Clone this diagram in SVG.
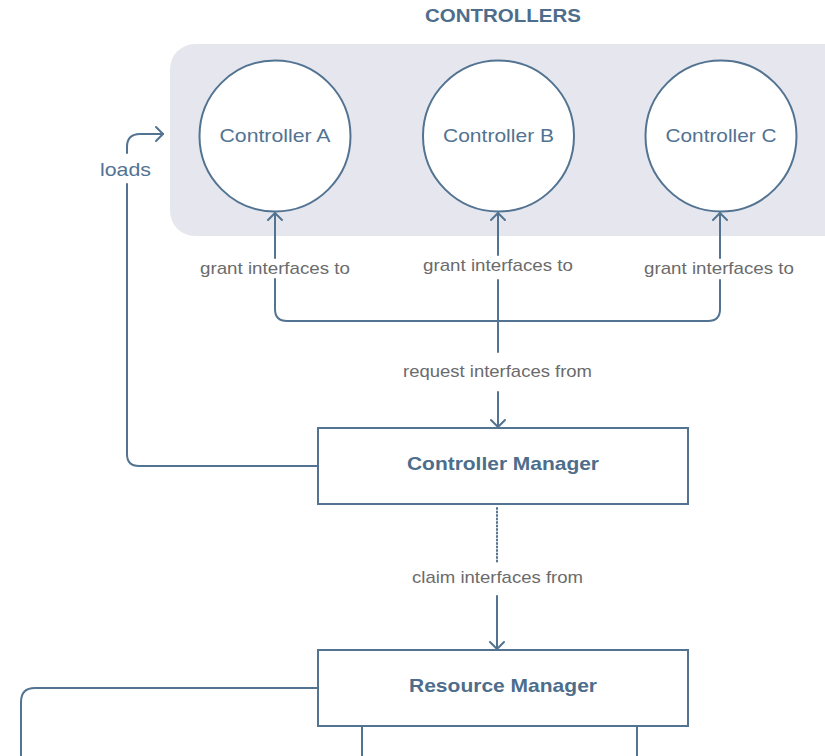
<svg xmlns="http://www.w3.org/2000/svg" width="825" height="756" viewBox="0 0 825 756">
<style>
.ln{fill:none;stroke:#527391;stroke-width:2;stroke-linecap:round;stroke-linejoin:round}
.node{fill:#fff;stroke:#527391;stroke-width:2}
.ctl{font-family:"Liberation Sans",Arial,sans-serif;font-size:19px;fill:#527391;text-anchor:middle}
.bold{font-family:"Liberation Sans",Arial,sans-serif;font-size:19px;font-weight:bold;fill:#4d6d8b;text-anchor:middle}
.lbl{font-family:"Liberation Sans",Arial,sans-serif;font-size:17px;fill:#6b6b6b;text-anchor:middle}
</style>
<defs>
<marker id="arr" markerUnits="userSpaceOnUse" markerWidth="20" markerHeight="20" viewBox="-10 -10 20 20" refX="0" refY="0" orient="auto">
<path d="M-7,-7 L0,0 L-7,7" fill="none" stroke="#527391" stroke-width="2" stroke-linecap="round" stroke-linejoin="round"/>
</marker>
</defs>
<rect width="825" height="756" fill="#fff"/>
<g id="controllers-group">
<rect x="170" y="44" width="690" height="192" rx="25" fill="#e6e7ee"/>
<text class="bold" x="503" y="22" font-size="18" textLength="156" lengthAdjust="spacingAndGlyphs">CONTROLLERS</text>
</g>
<g id="controller-a">
<circle class="node" cx="275" cy="136" r="75.5"/>
<text class="ctl" x="275" y="142" textLength="111" lengthAdjust="spacingAndGlyphs">Controller A</text>
</g>
<g id="controller-b">
<circle class="node" cx="498.5" cy="136" r="75.5"/>
<text class="ctl" x="498.5" y="142" textLength="111" lengthAdjust="spacingAndGlyphs">Controller B</text>
</g>
<g id="controller-c">
<circle class="node" cx="721" cy="136" r="75.5"/>
<text class="ctl" x="721" y="142" textLength="111" lengthAdjust="spacingAndGlyphs">Controller C</text>
</g>
<g id="controller-manager">
<rect class="node" x="318" y="428" width="370" height="76"/>
<text class="bold" x="503" y="470" textLength="192" lengthAdjust="spacingAndGlyphs">Controller Manager</text>
</g>
<g id="resource-manager">
<rect class="node" x="318" y="650" width="370" height="76"/>
<text class="bold" x="503" y="692" textLength="188" lengthAdjust="spacingAndGlyphs">Resource Manager</text>
</g>
<g id="connectors">
<!-- grant to A -->
<path class="ln" d="M275,258 L275,213" marker-end="url(#arr)"/>
<path class="ln" d="M275,279 L275,309 Q275,321 287,321 L708,321 Q720,321 720,309 L720,280"/>
<path class="ln" d="M720,258 L720,213" marker-end="url(#arr)"/>
<path class="ln" d="M498,255 L498,213" marker-end="url(#arr)"/>
<path class="ln" d="M498,280 L498,352"/>
<path class="ln" d="M498,392 L498,427" marker-end="url(#arr)"/>
<path class="ln" d="M497,508 L497,563" stroke-width="1" stroke-dasharray="1 2.5" stroke-linecap="butt"/>
<path class="ln" d="M497,596 L497,649" marker-end="url(#arr)"/>
<!-- loads -->
<path class="ln" d="M318,466 L139,466 Q127,466 127,454 L127,184"/>
<path class="ln" d="M127,153 L127,147 Q127,134 140,134 L163,134" marker-end="url(#arr)"/>
<!-- resource manager outputs -->
<path class="ln" d="M318,688 L35,688 Q21,688 21,702 L21,760"/>
<path class="ln" d="M362,727 L362,760"/>
<path class="ln" d="M637,727 L637,760"/>
<text class="lbl" x="275" y="274" textLength="150" lengthAdjust="spacingAndGlyphs">grant interfaces to</text>
<text class="lbl" x="498" y="271" textLength="150" lengthAdjust="spacingAndGlyphs">grant interfaces to</text>
<text class="lbl" x="719" y="274" textLength="150" lengthAdjust="spacingAndGlyphs">grant interfaces to</text>
<text class="lbl" x="497.5" y="377" textLength="189" lengthAdjust="spacingAndGlyphs">request interfaces from</text>
<text class="lbl" x="497.5" y="583" textLength="171" lengthAdjust="spacingAndGlyphs">claim interfaces from</text>
<text class="ctl" x="125.5" y="176" textLength="51" lengthAdjust="spacingAndGlyphs">loads</text>
</g>
</svg>
